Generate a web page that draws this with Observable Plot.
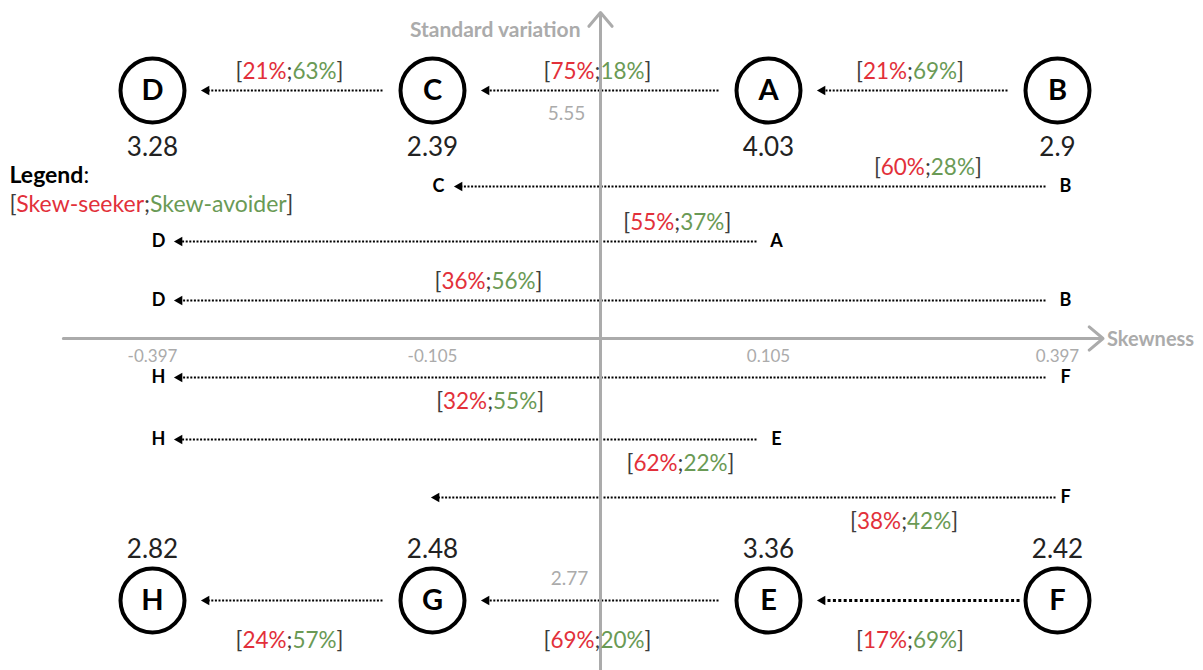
<!DOCTYPE html>
<html>
<head>
<meta charset="utf-8">
<script src="https://cdn.jsdelivr.net/npm/d3@7"></script>
<script src="https://cdn.jsdelivr.net/npm/@observablehq/plot@0.6"></script>
<style>
  html, body { margin: 0; padding: 0; background: #fff; }
  #chart svg { display: block; }
</style>
</head>
<body>
<div id="chart"></div>
<script>
// ---------- data ----------
const nodes        = ["A", "B", "C", "D", "E", "F", "G", "H"];
const nodeSkewness = [0.105, 0.397, -0.105, -0.397, 0.105, 0.397, -0.105, -0.397];
const nodeHalf     = ["upper", "upper", "upper", "upper", "lower", "lower", "lower", "lower"];
const nodeValues   = [4.03, 2.9, 2.39, 3.28, 3.36, 2.42, 2.48, 2.82];

// transitions between neighbouring nodes
const stepFrom    = ["B", "A", "C", "F", "E", "G"];
const stepTo      = ["A", "C", "D", "E", "G", "H"];
const stepSeeker  = [21, 75, 21, 17, 69, 24];
const stepAvoider = [69, 18, 63, 69, 20, 57];

// longer transitions (middle rows)
const jumpFrom    = ["B", "A", "B", "F", "E", "F"];
const jumpTo      = ["C", "D", "D", "H", "H", "G"];
const jumpSeeker  = [60, 55, 36, 32, 62, 38];
const jumpAvoider = [28, 37, 56, 55, 22, 42];

const skewTicks = [-0.397, -0.105, 0.105, 0.397];
const stdTicks  = [5.55, 2.77];
const legendLabels = ["Skew-seeker", "Skew-avoider"];

// ---------- layout (scale options) ----------
const colSkew = [-0.397, -0.105, 0, 0.105, 0.397];
const colPx   = [152, 432, 600, 768, 1057];
const rowNames = ["axisTop", "upperNode", "upperValue", "jump1", "jump2", "jump3", "axis",
                  "jump4", "jump5", "jump6", "lowerValue", "lowerNode", "bottom"];
const rowPx    = [12, 90, 147, 186, 241, 300, 338, 377, 439, 497, 549, 600, 670];
const row = name => rowNames.indexOf(name);

const jumpRows      = ["jump1", "jump2", "jump3", "jump4", "jump5", "jump6"];
const jumpLabelSkew = [0.266, 0.048, -0.07, -0.069, 0.05, 0.242];
const jumpLabelSide = ["above", "above", "above", "below", "below", "below"];
const jumpShowTo    = [true, true, true, true, true, false];
const stepThick     = [false, false, false, true, false, false];
const axisSkewExtent = [-0.49, 0.443];

// ---------- derived tables ----------
const idx = d3.range(nodes.length);
const skewOf = n => nodeSkewness[nodes.indexOf(n)];
const halfOf = n => nodeHalf[nodes.indexOf(n)];
const nodeRow = n => row(halfOf(n) === "upper" ? "upperNode" : "lowerNode");

const steps = stepFrom.map((f, i) => ({from: f, to: stepTo[i], seeker: stepSeeker[i], avoider: stepAvoider[i], thick: stepThick[i]}));
const jumps = jumpFrom.map((f, i) => ({from: f, to: jumpTo[i], seeker: jumpSeeker[i], avoider: jumpAvoider[i],
  row: row(jumpRows[i]), labelSkew: jumpLabelSkew[i], side: jumpLabelSide[i], showTo: jumpShowTo[i]}));
const pct = d => `[${d.seeker}%;${d.avoider}%]`;

const red = "#e2303a", green = "#6a9a55", dark = "#3c3c3c", gray = "#ababab";
const dotted = {stroke: "black", strokeWidth: 2, strokeDasharray: "2,1.6", strokeLinecap: "butt", headLength: 0};
const head = {symbol: "triangle", rotate: -90, r: 3.6, fill: "black", stroke: "none"};
const pctSize = 22.5;

const chart = Plot.plot({
  width: 1203,
  height: 670,
  margin: 0,
  x: {type: "linear", domain: colSkew, range: colPx, axis: null},
  y: {type: "linear", domain: d3.range(rowPx.length), range: rowPx, axis: null},
  style: {fontFamily: "Lato, 'Open Sans', sans-serif", background: "white", overflow: "visible"},
  marks: [
    // step arrows (between circles)
    Plot.arrow(steps.filter(d => !d.thick), {
      x1: d => skewOf(d.from), y1: d => nodeRow(d.from),
      x2: d => skewOf(d.to), y2: d => nodeRow(d.to),
      insetStart: 50, insetEnd: 54, ...dotted
    }),
    Plot.arrow(steps.filter(d => d.thick), {
      x1: d => skewOf(d.from), y1: d => nodeRow(d.from),
      x2: d => skewOf(d.to), y2: d => nodeRow(d.to),
      insetStart: 38, insetEnd: 56, ...dotted, strokeWidth: 3, strokeDasharray: "3,2.4"
    }),
    Plot.dot(steps, {x: d => skewOf(d.to), y: d => nodeRow(d.to), dx: 54, ...head}),

    // jump arrows (middle rows)
    Plot.arrow(jumps.filter(d => d.showTo), {
      x1: d => skewOf(d.from), x2: d => skewOf(d.to), y1: "row", y2: "row",
      insetStart: 12, insetEnd: 26, ...dotted
    }),
    Plot.arrow(jumps.filter(d => !d.showTo), {
      x1: d => skewOf(d.from), x2: d => skewOf(d.to), y1: "row", y2: "row",
      insetStart: 2, insetEnd: 4, ...dotted
    }),
    Plot.dot(jumps.filter(d => d.showTo), {x: d => skewOf(d.to), y: "row", dx: 27, ...head}),
    Plot.dot(jumps.filter(d => !d.showTo), {x: d => skewOf(d.to), y: "row", dx: 4, ...head}),

    // axes
    Plot.arrow([0], {x1: 0, x2: 0, y1: row("bottom"), y2: row("axisTop"), stroke: gray, strokeWidth: 3, headLength: 9, headAngle: 80}),
    Plot.arrow([0], {x1: axisSkewExtent[0], x2: axisSkewExtent[1], y1: row("axis"), y2: row("axis"), stroke: gray, strokeWidth: 3, headLength: 9, headAngle: 80}),
    Plot.text(["Standard variation"], {x: 0, y: row("axisTop"), dx: -20, dy: 18, text: d => d, textAnchor: "end", fill: gray, fontWeight: "bold", fontSize: 21}),
    Plot.text(["Skewness"], {x: axisSkewExtent[1], y: row("axis"), dx: 4, dy: 1, text: d => d, textAnchor: "start", fill: gray, fontWeight: "bold", fontSize: 20}),
    Plot.text(skewTicks, {x: d => d, y: row("axis"), dy: 18, text: d => d.toFixed(3), fill: gray, fontSize: 17}),
    Plot.text([stdTicks[0]], {x: 0, y: row("upperNode"), dx: -34, dy: 23, text: d => d.toFixed(2), fill: gray, fontSize: 19}),
    Plot.text([stdTicks[1]], {x: 0, y: row("lowerNode"), dx: -31, dy: -22, text: d => d.toFixed(2), fill: gray, fontSize: 19}),

    // jump letters
    Plot.text(jumps, {x: d => skewOf(d.from), y: "row", dx: 8, text: "from", fontWeight: "bold", fontSize: 18, fill: "black"}),
    Plot.text(jumps.filter(d => d.showTo), {x: d => skewOf(d.to), y: "row", dx: 6, text: "to", fontWeight: "bold", fontSize: 18, fill: "black"}),

    // percentage labels
    Plot.text(steps.filter(d => halfOf(d.to) === "upper"), {
      x: d => (skewOf(d.from) + skewOf(d.to)) / 2, y: d => nodeRow(d.to), dy: -19, dx: -3,
      text: pct, fontSize: pctSize
    }),
    Plot.text(steps.filter(d => halfOf(d.to) === "lower"), {
      x: d => (skewOf(d.from) + skewOf(d.to)) / 2, y: d => nodeRow(d.to), dy: 40, dx: -3,
      text: pct, fontSize: pctSize
    }),
    Plot.text(jumps.filter(d => d.side === "above"), {x: "labelSkew", y: "row", dy: -19, text: pct, fontSize: pctSize}),
    Plot.text(jumps.filter(d => d.side === "below"), {x: "labelSkew", y: "row", dy: 24, text: pct, fontSize: pctSize}),

    // nodes
    Plot.dot(idx, {x: i => nodeSkewness[i], y: i => row(nodeHalf[i] === "upper" ? "upperNode" : "lowerNode"),
      r: 32, stroke: "black", strokeWidth: 4, fill: "white"}),
    Plot.text(idx, {x: i => nodeSkewness[i], y: i => row(nodeHalf[i] === "upper" ? "upperNode" : "lowerNode"),
      text: i => nodes[i], fontWeight: "bold", fontSize: 29, fill: "black"}),
    Plot.text(idx, {x: i => nodeSkewness[i], y: i => row(nodeHalf[i] === "upper" ? "upperValue" : "lowerValue"),
      text: i => String(nodeValues[i]), fontSize: 26, fill: "#222"}),

    // legend
    Plot.text(["Legend:"], {frameAnchor: "top-left", dx: 9, dy: 175, lineAnchor: "middle", textAnchor: "start",
      text: d => d, fontSize: 23, fill: "black"}),
    Plot.text([`[${legendLabels[0]};${legendLabels[1]}]`], {frameAnchor: "top-left", dx: 9, dy: 204, lineAnchor: "middle",
      textAnchor: "start", text: d => d, fontSize: 23})
  ]
});

document.getElementById("chart").appendChild(chart);

// colour the bracketed labels: [seeker;avoider]
d3.select(chart).selectAll("text").each(function () {
  const t = this.textContent;
  const el = d3.select(this);
  const m = t.match(/^\[(.+?)([;,]\s?)(.+)\]$/);
  if (m) {
    el.text(null);
    el.append("tspan").attr("fill", dark).text("[");
    el.append("tspan").attr("fill", red).text(m[1]);
    el.append("tspan").attr("fill", dark).text(m[2]);
    el.append("tspan").attr("fill", green).text(m[3]);
    el.append("tspan").attr("fill", dark).text("]");
  } else if (t === "Legend:") {
    el.text(null);
    el.append("tspan").attr("font-weight", "bold").text("Legend");
    el.append("tspan").attr("font-weight", "normal").text(":");
  }
});
</script>
</body>
</html>
